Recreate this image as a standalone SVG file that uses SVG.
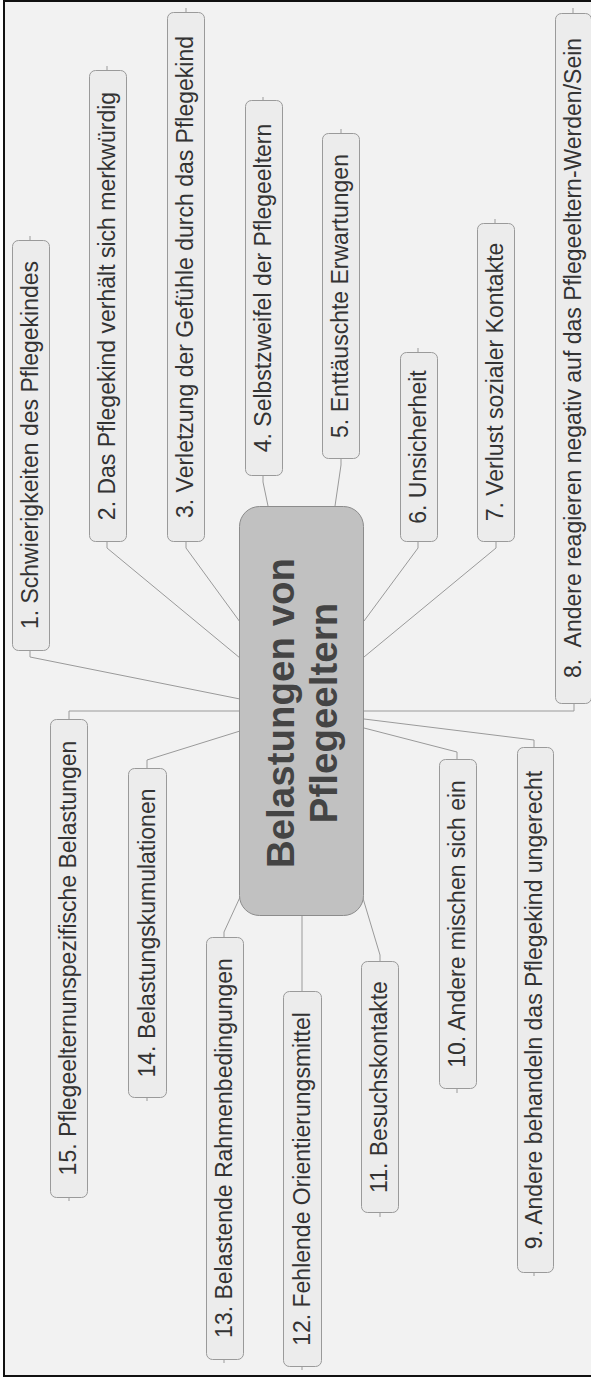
<svg xmlns="http://www.w3.org/2000/svg" width="591" height="1377" viewBox="0 0 591 1377">
  <style>
    .bg { fill: #f2f2f2; stroke: #111; stroke-width: 2; }
    .topic rect { fill: #ececec; stroke: #9a9a9a; stroke-width: 1; }
    .topic text { font-family: "Liberation Sans", Arial, sans-serif; font-size: 23px; fill: #333; text-anchor: middle; }
    .central rect { fill: #c1c1c1; stroke: #8c8c8c; stroke-width: 1; }
    .central text { font-family: "Liberation Sans", Arial, sans-serif; font-size: 38.5px; font-weight: bold; fill: #444; text-anchor: middle; }
    .links polyline, .links line { fill: none; stroke: #9a9a9a; stroke-width: 1; }
  </style>

  <!-- frame and canvas -->
  <rect class="bg" x="4" y="1" width="600" height="1375"/>

  <!-- connectors: stub at the node edge, then a straight run to the central topic -->
  <g id="connectors" class="links">
    <polyline points="30,650 30,657 240,699"/>
    <polyline points="107,541 107,548 240,658"/>
    <polyline points="186,541 186,548 240,622"/>
    <polyline points="263,475 263,482 268,506"/>
    <polyline points="341,458 341,465 335,506"/>
    <polyline points="418,541 418,548 364,621"/>
    <polyline points="496,541 496,548 364,657"/>
    <polyline points="574,703 574,711 364,711"/>
    <polyline points="534,747 534,740 364,719"/>
    <polyline points="457,759 457,752 364,728"/>
    <polyline points="380,961 380,955 362,895"/>
    <polyline points="302,991 302,916"/>
    <polyline points="224,937 224,932 241,895"/>
    <polyline points="147,768 147,760 240,731"/>
    <polyline points="69,719 69,711 240,711"/>
    <!-- outer stubs -->
    <line x1="30" y1="240" x2="30" y2="236"/>
    <line x1="107" y1="70" x2="107" y2="66"/>
    <line x1="186" y1="12" x2="186" y2="8"/>
    <line x1="263" y1="100" x2="263" y2="97"/>
    <line x1="341" y1="133" x2="341" y2="129"/>
    <line x1="418" y1="352" x2="418" y2="348"/>
    <line x1="495" y1="223" x2="495" y2="219"/>
    <line x1="573" y1="13" x2="573" y2="8"/>
    <line x1="534" y1="1272" x2="534" y2="1276"/>
    <line x1="457" y1="1088" x2="457" y2="1093"/>
    <line x1="380" y1="1212" x2="380" y2="1217"/>
    <line x1="302" y1="1366" x2="302" y2="1370"/>
    <line x1="224" y1="1359" x2="224" y2="1363"/>
    <line x1="147" y1="1097" x2="147" y2="1101"/>
    <line x1="69" y1="1197" x2="69" y2="1201"/>
  </g>

  <!-- central topic -->
  <g id="central" class="central">
    <rect x="239.5" y="506.5" width="124" height="409" rx="20"/>
    <text transform="translate(294,713) rotate(-90)">Belastungen von</text>
    <text transform="translate(337,713) rotate(-90)">Pflegeeltern</text>
  </g>

  <!-- subtopics -->
  <g id="n1" class="topic">
    <rect x="12.5" y="240.5" width="37" height="410" rx="6"/>
    <text transform="translate(38,445) rotate(-90)">1. Schwierigkeiten des Pflegekindes</text>
  </g>
  <g id="n2" class="topic">
    <rect x="89.5" y="70.5" width="37" height="471" rx="6"/>
    <text transform="translate(115,306) rotate(-90)">2. Das Pflegekind verhält sich merkwürdig</text>
  </g>
  <g id="n3" class="topic">
    <rect x="167.5" y="12.5" width="37" height="529" rx="6"/>
    <text transform="translate(193,277) rotate(-90)">3. Verletzung der Gefühle durch das Pflegekind</text>
  </g>
  <g id="n4" class="topic">
    <rect x="245.5" y="100.5" width="37" height="375" rx="6"/>
    <text transform="translate(271,288) rotate(-90)">4. Selbstzweifel der Pflegeeltern</text>
  </g>
  <g id="n5" class="topic">
    <rect x="322.5" y="133.5" width="37" height="325" rx="6"/>
    <text transform="translate(348,296) rotate(-90)">5. Enttäuschte Erwartungen</text>
  </g>
  <g id="n6" class="topic">
    <rect x="400.5" y="352.5" width="37" height="189" rx="6"/>
    <text transform="translate(426,447) rotate(-90)">6. Unsicherheit</text>
  </g>
  <g id="n7" class="topic">
    <rect x="477.5" y="223.5" width="37" height="318" rx="6"/>
    <text transform="translate(503,382) rotate(-90)">7. Verlust sozialer Kontakte</text>
  </g>
  <g id="n8" class="topic">
    <rect x="555.5" y="13.5" width="36" height="690" rx="6"/>
    <text transform="translate(581,358) rotate(-90)" xml:space="preserve">8.  Andere reagieren negativ auf das Pflegeeltern-Werden/Sein</text>
  </g>
  <g id="n9" class="topic">
    <rect x="517.5" y="747.5" width="36" height="525" rx="6"/>
    <text transform="translate(542,1010) rotate(-90)">9. Andere behandeln das Pflegekind ungerecht</text>
  </g>
  <g id="n10" class="topic">
    <rect x="439.5" y="759.5" width="37" height="329" rx="6"/>
    <text transform="translate(465,924) rotate(-90)">10. Andere mischen sich ein</text>
  </g>
  <g id="n11" class="topic">
    <rect x="361.5" y="961.5" width="37" height="251" rx="6"/>
    <text transform="translate(387,1087) rotate(-90)">11. Besuchskontakte</text>
  </g>
  <g id="n12" class="topic">
    <rect x="283.5" y="991.5" width="38" height="375" rx="6"/>
    <text transform="translate(310,1179) rotate(-90)">12. Fehlende Orientierungsmittel</text>
  </g>
  <g id="n13" class="topic">
    <rect x="206.5" y="937.5" width="37" height="422" rx="6"/>
    <text transform="translate(232,1148) rotate(-90)">13. Belastende Rahmenbedingungen</text>
  </g>
  <g id="n14" class="topic">
    <rect x="128.5" y="768.5" width="38" height="329" rx="6"/>
    <text transform="translate(155,933) rotate(-90)">14. Belastungskumulationen</text>
  </g>
  <g id="n15" class="topic">
    <rect x="50.5" y="719.5" width="37" height="478" rx="6"/>
    <text transform="translate(76,958) rotate(-90)">15. Pflegeelternunspezifische Belastungen</text>
  </g>
</svg>
